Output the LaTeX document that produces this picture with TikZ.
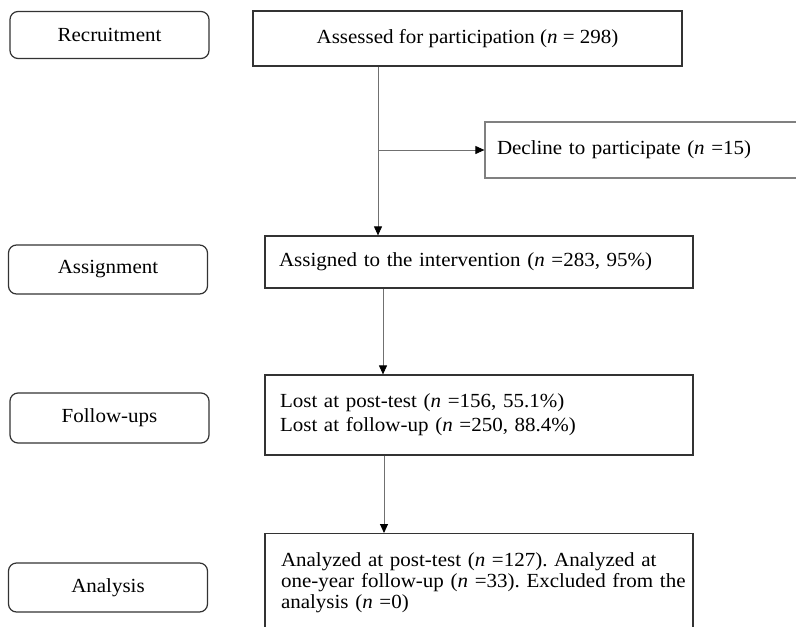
\documentclass[tikz,border=0pt]{standalone}
\usepackage{fontspec}
\setmainfont{Liberation Serif}[FakeStretch=1.05]
\usetikzlibrary{arrows.meta}
\definecolor{boxline}{HTML}{333333}
\definecolor{lightline}{HTML}{808080}
\definecolor{conn}{HTML}{707070}
\tikzset{
  stage/.style={draw=boxline, line width=1.2pt, rounded corners=8pt, minimum width=199pt, minimum height=47pt, inner sep=0pt, font=\fontsize{20}{22}\selectfont},
  flowbox/.style={draw=boxline, line width=1.2pt, inner ysep=0pt, font=\fontsize{20}{21}\selectfont\frenchspacing},
  conline/.style={draw=conn, line width=0.9pt},
  arr/.style={conline, -{Triangle[length=9pt,width=8pt,color=black]}}
}
\begin{document}
\begin{tikzpicture}[x=1pt,y=-1pt]
\clip (0,0) rectangle (796,627);
\fill[white] (0,0) rectangle (796,627);
% stage labels
\node[stage] (rec) at (109.5,35) {Recruitment};
\node[stage, minimum height=49pt] (asg) at (108,269.5) {Assignment};
\node[stage, minimum height=50pt] (fol) at (109.5,418) {Follow-ups};
\node[stage, minimum height=49pt] (ana) at (108,587.5) {Analysis};
% flow boxes
\node[flowbox, minimum width=429pt, minimum height=55pt] (assess) at (467.5,38.5) {Assessed for participation (\textit{n} = 298)};
\node[flowbox, draw=lightline, minimum width=345pt, minimum height=56pt, text width=321pt, inner xsep=12pt, align=left] (decl) at (657.5,150) {Decline to participate (\textit{n} =15)};
\node[flowbox, minimum width=428pt, minimum height=52pt, text width=400pt, inner xsep=14pt, align=left] (assign) at (479,262) {Assigned to the intervention (\textit{n} =283, 95\%)};
\node[flowbox, minimum width=428pt, minimum height=80pt, text width=398pt, inner xsep=15pt, align=left, font=\fontsize{20}{24}\selectfont] (lost) at (479,415) {Lost at post-test (\textit{n} =156, 55.1\%)\\Lost at follow-up (\textit{n} =250, 88.4\%)};
\node[flowbox, anchor=north, minimum width=428pt, minimum height=98pt, text width=396pt, inner xsep=16pt, align=left] (anal) at (479,533) {\mbox{Analyzed at post-test (\textit{n} =127). Analyzed at}\\\mbox{one-year follow-up (\textit{n} =33). Excluded from the}\\\mbox{analysis (\textit{n} =0)}};
% connectors
\coordinate (j) at (378,150);
\coordinate (c2) at (383,300);
\coordinate (c3) at (384,500);
\draw[arr] (assess.south -| j) -- (assign.north -| j);
\draw[arr] (j) -- (decl.west);
\draw[arr] (assign.south -| c2) -- (lost.north -| c2);
\draw[arr] (lost.south -| c3) -- (anal.north -| c3);
\end{tikzpicture}
\end{document}
